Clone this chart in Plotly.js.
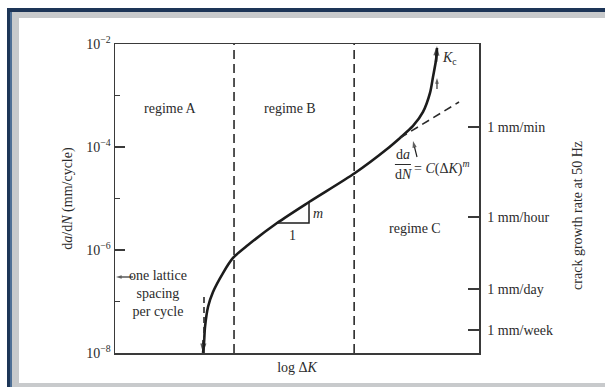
<!DOCTYPE html>
<html>
<head>
<meta charset="utf-8">
<script src="https://cdn.plot.ly/plotly-3.0.1.min.js"></script>
<style>
  html, body { margin: 0; padding: 0; background: #ffffff; }
  #chart { width: 605px; height: 387px; }
</style>
</head>
<body>
<div id="chart"></div>
<script>
// ---- data (x: log ΔK in arbitrary units 0..10) ----
const logDeltaK = [2.418, 2.445, 2.473, 2.555, 2.692, 2.967, 3.242, 3.654, 4.451, 5.330, 6.593, 7.473, 7.830, 8.187, 8.462, 8.654, 8.736, 8.819, 8.846];
const crackRate = [1.0e-8, 1.56e-8, 3.2e-8, 7.8e-8, 1.53e-7, 3.57e-7, 7.0e-7, 1.25e-6, 3.34e-6, 8.55e-6, 3.13e-5, 9.14e-5, 1.50e-4, 2.56e-4, 4.79e-4, 1.12e-3, 2.29e-3, 4.89e-3, 8.36e-3];

const parisK = [7.830, 9.451];
const parisRate = [1.50e-4, 7.48e-4];

const regimeBoundaries = [3.27, 6.57];
const rateRange = [1e-8, 1e-2];

const thresholdK = [2.445, 2.445];
const thresholdRate = [1e-8, 1.46e-7];

const slopeK = [4.451, 5.330, 5.330];
const slopeRate = [3.34e-6, 3.34e-6, 8.55e-6];

// arrows: [tail, tip]
const arrowThresholdK = [2.431, 2.418];
const arrowThresholdRate = [1.79e-8, 1.0e-8];
const arrowKcK = [8.819, 8.846];
const arrowKcRate = [4.47e-3, 9.14e-3];
const arrowKcSmallK = [8.846, 8.846];
const arrowKcSmallRate = [1.34e-3, 2.19e-3];
const arrowParisK = [8.297, 8.187];
const arrowParisRate = [6.4e-5, 1.31e-4];
const arrowLatticeK = [0.495, 0.027];
const arrowLatticeRate = [2.99e-7, 2.99e-7];

const leftTickVals = [1e-2, 1e-4, 1e-6, 1e-8];
const leftTickText = ['10<sup>−2</sup>', '10<sup>−4</sup>', '10<sup>−6</sup>', '10<sup>−8</sup>'];
const leftMinorVals = [1e-3, 1e-5, 1e-7];

const rightTickVals = [2.44e-4, 4.38e-6, 1.75e-7, 2.8e-8];
const rightTickText = ['1 mm/min', '1 mm/hour', '1 mm/day', '1 mm/week'];

const regimeLabels = ['regime A', 'regime B', 'regime C'];

// ---- styling ----
const ink = '#1c1c1c';
const axisInk = '#3a3a3a';
const FONT = 'Liberation Serif, Times New Roman, serif';

const dashed = (x, y, dash) => ({ x: x, y: y, mode: 'lines', line: { color: '#2a2a2a', width: 1.6, dash: dash }, hoverinfo: 'skip' });
const arrowTrace = (x, y, w, size) => ({
  x: x, y: y, mode: 'lines+markers', hoverinfo: 'skip',
  line: { color: ink, width: w },
  marker: { symbol: 'arrow', angleref: 'previous', size: [0, size], color: ink, line: { width: 0 } }
});

const traces = [
  { x: logDeltaK, y: crackRate, mode: 'lines', line: { color: ink, width: 2.6, shape: 'spline', smoothing: 0.8 }, hoverinfo: 'skip' },
  dashed(parisK, parisRate, '8px,5px'),
  dashed([regimeBoundaries[0], regimeBoundaries[0]], rateRange, '9px,5px'),
  dashed([regimeBoundaries[1], regimeBoundaries[1]], rateRange, '9px,5px'),
  dashed(thresholdK, thresholdRate, '6px,4px'),
  { x: slopeK, y: slopeRate, mode: 'lines', line: { color: ink, width: 1.5 }, hoverinfo: 'skip' },
  arrowTrace(arrowThresholdK, arrowThresholdRate, 2.4, 10),
  arrowTrace(arrowKcK, arrowKcRate, 2.4, 10),
  arrowTrace(arrowKcSmallK, arrowKcSmallRate, 1.1, 6),
  arrowTrace(arrowParisK, arrowParisRate, 1.2, 7),
  arrowTrace(arrowLatticeK, arrowLatticeRate, 1.1, 6),
  // carries the right-hand (time-rate) axis
  { x: logDeltaK, y: crackRate, yaxis: 'y2', mode: 'lines', line: { color: 'rgba(0,0,0,0)', width: 0 }, hoverinfo: 'skip' }
];

const txt = (text, x, y, extra) => Object.assign({ text: text, x: x, y: Math.log10(y), xref: 'x', yref: 'y', showarrow: false, font: { family: FONT, size: 14, color: '#2b2b2b' } }, extra || {});

const annotations = [
  txt(regimeLabels[0], 1.511, 5.71e-4),
  txt(regimeLabels[1], 4.808, 5.71e-4),
  txt(regimeLabels[2], 8.242, 2.67e-6),
  txt('<i>K</i><sub>c</sub>', 9.203, 5.12e-3),
  txt('<i>m</i>', 5.577, 5.22e-6),
  txt('1', 4.863, 1.95e-6),
  txt('d<i>a</i>', 7.912, 7.0e-5),
  txt('d<i>N</i>', 7.912, 2.99e-5),
  txt('= <i>C</i>(Δ<i>K</i>)<sup><i>m</i></sup>', 8.159, 4.09e-5, { xanchor: 'left' }),
  txt('one lattice<br>spacing<br>per cycle', 1.181, 1.4e-7, { align: 'center' }),
  { text: 'crack growth rate at 50 Hz', xref: 'paper', yref: 'paper', x: 1.269, y: 0.4466, xanchor: 'center', yanchor: 'middle', textangle: -90, showarrow: false, font: { family: FONT, size: 14, color: '#2b2b2b' } }
];

const frameNavy = '#1d3557';
const frameBlue = '#4f6f96';
const frameGray = '#c8cacc';
const shapes = [
  { type: 'line', xref: 'paper', yref: 'paper', x0: 0.769, x1: 0.813, y0: 0.610, y1: 0.610, line: { color: '#2b2b2b', width: 1 } },
  { type: 'rect', xref: 'paper', yref: 'paper', x0: -0.2967, x1: -0.2830, y0: -0.12, y1: 1.1165, fillcolor: frameNavy, line: { width: 0 } },
  { type: 'rect', xref: 'paper', yref: 'paper', x0: -0.2967, x1: 1.36, y0: 1.1036, y1: 1.1165, fillcolor: frameNavy, line: { width: 0 } },
  { type: 'rect', xref: 'paper', yref: 'paper', x0: -0.2885, x1: -0.2830, y0: -0.12, y1: 1.1036, fillcolor: frameBlue, line: { width: 0 } },
  { type: 'rect', xref: 'paper', yref: 'paper', x0: -0.2830, x1: -0.2637, y0: -0.12, y1: 1.1036, fillcolor: frameGray, line: { width: 0 } },
  { type: 'rect', xref: 'paper', yref: 'paper', x0: -0.2830, x1: 1.36, y0: 1.0841, y1: 1.1036, fillcolor: frameGray, line: { width: 0 } },
  { type: 'rect', xref: 'paper', yref: 'paper', x0: -0.2830, x1: 1.36, y0: -0.12, y1: -0.0971, fillcolor: frameGray, line: { width: 0 } }
];

const layout = {
  width: 605, height: 387,
  margin: { l: 115, r: 126, t: 44, b: 34, pad: 0 },
  paper_bgcolor: '#ffffff', plot_bgcolor: '#ffffff',
  showlegend: false,
  font: { family: FONT, size: 14, color: '#2b2b2b' },
  xaxis: {
    range: [0, 10], showline: true, mirror: true, linecolor: axisInk, linewidth: 1.5,
    showticklabels: false, ticks: '', showgrid: false, zeroline: false,
    title: { text: 'log Δ<i>K</i>', standoff: 8, font: { family: FONT, size: 14, color: '#2b2b2b' } }
  },
  yaxis: {
    type: 'log', range: [-8, -2], showline: true, linecolor: axisInk, linewidth: 1.5,
    ticks: 'inside', ticklen: 10, tickwidth: 1.5, tickcolor: axisInk,
    tickmode: 'array', tickvals: leftTickVals, ticktext: leftTickText,
    showgrid: false, zeroline: false,
    minor: { tickmode: 'array', tickvals: leftMinorVals, ticks: 'inside', ticklen: 5, tickwidth: 1.3, tickcolor: axisInk, showgrid: false },
    title: { text: 'd<i>a</i>/d<i>N</i> (mm/cycle)', standoff: 10, font: { family: FONT, size: 14, color: '#2b2b2b' } }
  },
  yaxis2: {
    type: 'log', range: [-8, -2], overlaying: 'y', side: 'right', anchor: 'x',
    showline: true, linecolor: axisInk, linewidth: 1.5,
    ticks: 'inside', ticklen: 11, tickwidth: 1.5, tickcolor: axisInk,
    tickmode: 'array', tickvals: rightTickVals, ticktext: rightTickText,
    showgrid: false, zeroline: false, ticklabelstandoff: 4
  },
  annotations: annotations,
  shapes: shapes
};

Plotly.newPlot('chart', traces, layout, { displayModeBar: false, staticPlot: true });
</script>
</body>
</html>
